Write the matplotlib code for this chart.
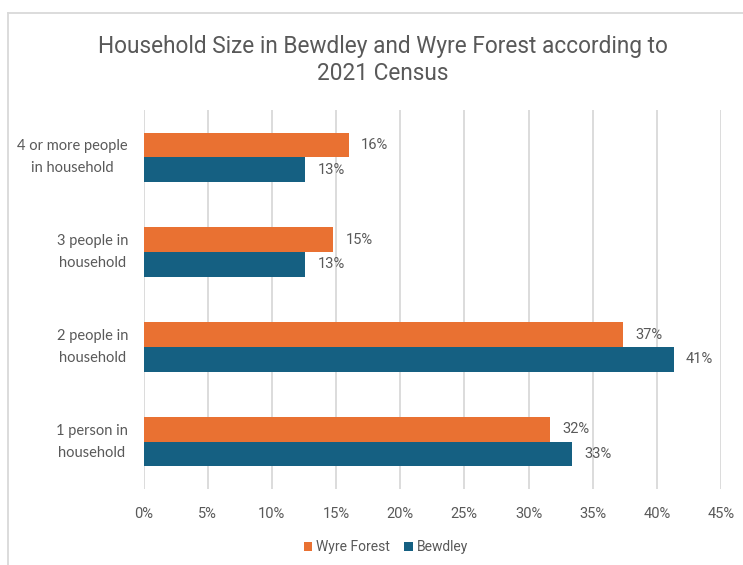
"""Household size bar chart, Bewdley vs Wyre Forest (2021 Census)."""

import matplotlib

matplotlib.use("Agg")
import matplotlib.pyplot as plt
from matplotlib.lines import Line2D
from matplotlib.ticker import FuncFormatter, MultipleLocator
import numpy as np

categories = [
    "1 person in\nhousehold",
    "2 people in\nhousehold",
    "3 people in\nhousehold",
    "4 or more people\nin household",
]
wyre_forest = [31.7, 37.4, 14.8, 16.0]
bewdley = [33.4, 41.3, 12.6, 12.6]
wyre_labels = ["32%", "37%", "15%", "16%"]
bewdley_labels = ["33%", "41%", "13%", "13%"]

ORANGE = "#E97132"
BLUE = "#156082"
TEXT = "#595959"
GRID = "#d9d9d9"

plt.rcParams["font.family"] = ["Roboto", "DejaVu Sans"]

fig = plt.figure(figsize=(7.43, 5.65), dpi=100)
ax = fig.add_axes([143.5 / 743, 1 - 489 / 565, (721 - 143.5) / 743, (489 - 110) / 565])

y = np.arange(len(categories))
h = 0.26
ax.barh(y + h / 2, wyre_forest, height=h, color=ORANGE, label="Wyre Forest", zorder=3)
ax.barh(y - h / 2, bewdley, height=h, color=BLUE, label="Bewdley", zorder=3)

for yi, v, lab in zip(y, wyre_forest, wyre_labels):
    ax.text(v + 0.95, yi + h / 2, lab, va="center", ha="left", fontsize=10.5, color=TEXT)
for yi, v, lab in zip(y, bewdley, bewdley_labels):
    ax.text(v + 0.95, yi - h / 2, lab, va="center", ha="left", fontsize=10.5, color=TEXT)

ax.set_xlim(0, 45)
ax.set_ylim(-0.5, len(categories) - 0.5)
ax.xaxis.set_major_locator(MultipleLocator(5))
ax.xaxis.set_major_formatter(FuncFormatter(lambda v, _: f"{v:.0f}%"))
ax.set_yticks(y)
ax.set_yticklabels([])
# category labels: right edge at the axis, lines centred on each other
for yi, cat in zip(y, categories):
    ax.text(-0.027, yi, cat, transform=ax.get_yaxis_transform(), ha="right", va="center",
            multialignment="center", fontsize=10.5, color=TEXT, linespacing=1.75,
            family=["Lato", "DejaVu Sans"])
ax.tick_params(axis="x", length=0, pad=13, labelsize=10.5, labelcolor=TEXT)
ax.tick_params(axis="y", length=0)
ax.grid(True, axis="x", color=GRID, linewidth=1.3, zorder=0)
for s in ax.spines.values():
    s.set_visible(False)

fig.text(383 / 743, 1 - 47 / 565, "Household Size in Bewdley and Wyre Forest according to",
         ha="center", va="center", fontsize=16.3, color=TEXT)
fig.text(383 / 743, 1 - 74 / 565, "2021 Census", ha="center", va="center", fontsize=16.3,
         color=TEXT)

fig.legend(loc="center", bbox_to_anchor=(386 / 743, 1 - 547 / 565), ncol=2, frameon=False,
           fontsize=10, handlelength=0.6, handleheight=0.6, handletextpad=0.3,
           columnspacing=1.0, labelcolor=TEXT)

# chart frame and clipped heading fragment from the page above
fig.add_artist(Line2D([8 / 743, 8 / 743], [0, 1 - 12.5 / 565], color=GRID, lw=1.3))
fig.add_artist(Line2D([8 / 743, 1], [1 - 12.5 / 565, 1 - 12.5 / 565], color=GRID, lw=1.3))
fig.text(448 / 743, 1 + 5 / 565, "g", ha="center", va="baseline", fontsize=20,
         color="#1f3864", family=["Lato", "DejaVu Sans"])

fig.savefig("out.png", dpi=100)
plt.close(fig)
